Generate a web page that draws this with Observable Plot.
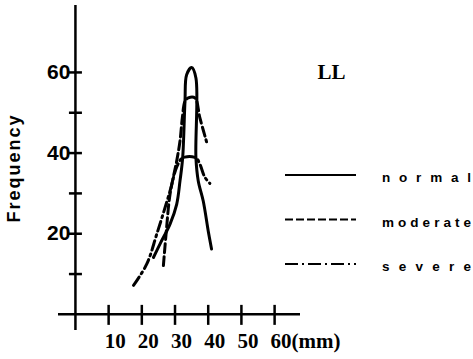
<!DOCTYPE html>
<html><head><meta charset="utf-8">
<script src="https://cdn.jsdelivr.net/npm/d3@7"></script>
<script src="https://cdn.jsdelivr.net/npm/@observablehq/plot@0.6"></script>
<style>body{margin:0;background:#fff}</style>
</head><body><div id="chart"></div>
<script>
const seriesNames = ["normal", "moderate", "severe"];
const normalMM   = [23.5, 25.5, 28.5, 30.5, 31.5, 32.3, 33.0, 33.5, 35.0, 36.3, 36.3, 37.0, 38.5, 40.0, 41.0];
const normalFreq = [14.1, 17.5, 22.4, 27.3, 33.1, 38.8, 52.8, 59.4, 61.2, 58.6, 38.8, 33.1, 28.1, 20.7, 16.2];
const moderateMM   = [26.5, 27.3, 28.5, 30.5, 31.5, 32.2, 33.0, 34.0, 36.0, 37.5, 39.5];
const moderateFreq = [12.1, 19.9, 29.8, 38.0, 43.0, 48.7, 52.8, 53.7, 53.7, 48.7, 42.8];
const severeMM   = [17.5, 21.5, 24.5, 28.5, 30.5, 32.3, 36.3, 37.5, 39.0, 40.5];
const severeFreq = [7.2, 12.5, 19.9, 30.6, 36.5, 38.8, 38.8, 37.2, 34.0, 32.5];
const xTicks = [10, 20, 30, 40, 50, 60];
const xLabels = ["10", "20", "30", "40", "50", "60(mm)"];
const yTicks = [10, 20, 30, 40, 50, 60];
const yLabels = [20, 40, 60];
const chartTitle = "LL";
const yTitle = "Frequency";

const seriesData = [
  {name: seriesNames[0], mm: normalMM, freq: normalFreq},
  {name: seriesNames[1], mm: moderateMM, freq: moderateFreq},
  {name: seriesNames[2], mm: severeMM, freq: severeFreq}
].map(s => ({name: s.name, rows: s.mm.map((m, i) => ({mm: m, freq: s.freq[i]}))}));

const chartDash = [null, "9,4", "10,4,2,4"];
const legendDash = [null, "8,3", "13,4,2,4"];
const serif = "'Liberation Serif', 'DejaVu Serif', serif";
const sans = "'Liberation Sans', Arial, sans-serif";

const svg = Plot.plot({
  width: 473, height: 359,
  marginLeft: 58, marginRight: 173, marginTop: 5, marginBottom: 29,
  x: {domain: [-5.1, 67.8], axis: null},
  y: {domain: [-4, 76.6], axis: null},
  style: {background: "#fff", overflow: "visible"},
  marks: [
    Plot.ruleY([0], {stroke: "#000", strokeWidth: 2.5}),
    Plot.ruleX([0], {stroke: "#000", strokeWidth: 2.5}),
    Plot.ruleX(xTicks, {x: d => d, y1: () => 0, y2: () => 0, insetTop: 11, insetBottom: 9, stroke: "#000", strokeWidth: 2.5}),
    Plot.ruleY(yTicks, {y: d => d, x1: () => 0, x2: () => 0, insetLeft: -6, insetRight: -7, stroke: "#000", strokeWidth: 2.5}),
    ...seriesData.map((s, i) => Plot.line(s.rows, {
      x: "mm", y: "freq", curve: "catmull-rom",
      stroke: "#000", strokeWidth: 3, strokeDasharray: chartDash[i] || undefined
    })),
    Plot.text(yLabels, {x: () => 0, y: d => d, text: d => String(d), textAnchor: "end", dx: -5,
      fontSize: 21, fontWeight: "bold", fontFamily: sans, fill: "#000"}),
    Plot.text(xLabels, {x: (d, i) => xTicks[i], y: () => 0, text: d => d, textAnchor: "start", dx: -4, dy: 27,
      fontSize: 21, fontWeight: "bold", fontFamily: serif, fill: "#000"}),
    Plot.text([yTitle], {frameAnchor: "left", textAnchor: "middle", dx: -44, rotate: -90,
      fontSize: 18, fontWeight: "bold", fontFamily: sans, fill: "#000"}),
    Plot.text([chartTitle], {frameAnchor: "top-right", textAnchor: "middle", lineAnchor: "bottom", dx: 31, dy: 73,
      fontSize: 21, fontWeight: "bold", fontFamily: serif, fill: "#000"})
  ]
});

d3.select(svg).selectAll("text").filter(function() { return this.textContent === yTitle; })
  .attr("letter-spacing", "2");

const lg = d3.select(svg).append("g").attr("text-anchor", "start");
seriesNames.forEach((name, i) => {
  const y = 175 + i * 44.5;
  const ln = lg.append("line").attr("x1", 285).attr("x2", 356).attr("y1", y).attr("y2", y)
    .attr("stroke", "#000").attr("stroke-width", 2);
  if (legendDash[i]) ln.attr("stroke-dasharray", legendDash[i]);
  lg.append("text").attr("x", 382).attr("y", y + 7).attr("text-anchor", "start")
    .attr("textLength", 89).attr("lengthAdjust", "spacing")
    .attr("font-family", sans).attr("font-size", 13.5).attr("font-weight", "bold")
    .attr("fill", "#000").text(name);
});

document.getElementById("chart").appendChild(svg);
</script>
</body></html>
